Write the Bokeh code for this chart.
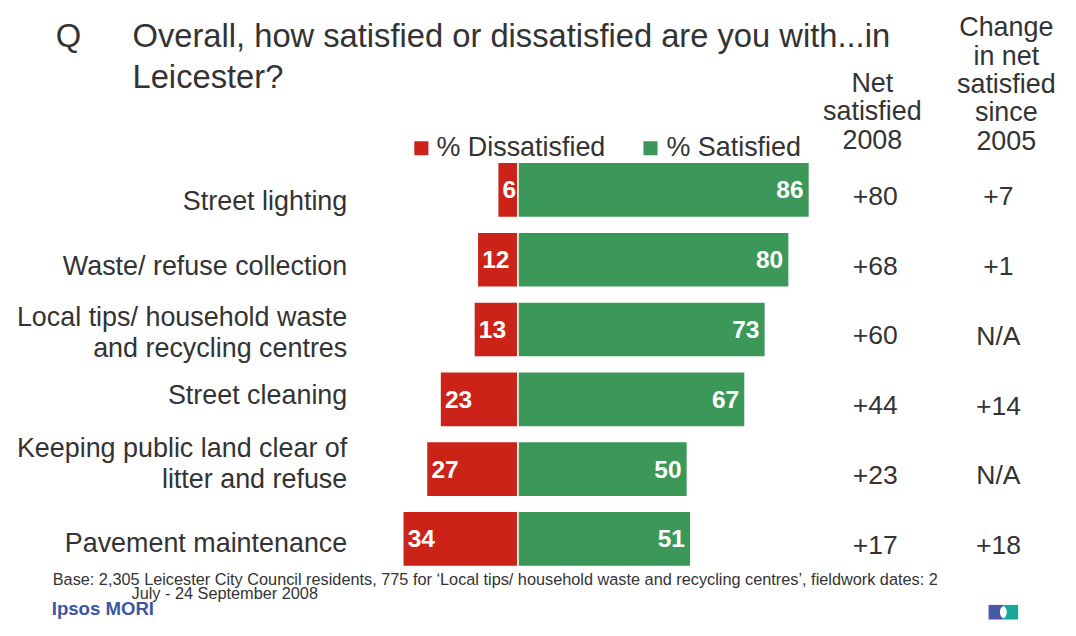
from bokeh.plotting import figure
from bokeh.models import Range1d, ColumnDataSource
from bokeh.core.properties import value
from bokeh.embed import file_html
from bokeh.resources import INLINE

# ---------------- data ----------------
categories = [
    "Street lighting",
    "Waste/ refuse collection",
    "Local tips/ household waste\nand recycling centres",
    "Street cleaning",
    "Keeping public land clear of\nlitter and refuse",
    "Pavement maintenance",
]
dissatisfied = [6, 12, 13, 23, 27, 34]
satisfied = [86, 80, 73, 67, 50, 51]
net_2008 = ["+80", "+68", "+60", "+44", "+23", "+17"]
change_since_2005 = ["+7", "+1", "N/A", "+14", "N/A", "+18"]

title_lines = ["Overall, how satisfied or dissatisfied are you with...in", "Leicester?"]
net_header = ["Net", "satisfied", "2008"]
change_header = ["Change", "in net", "satisfied", "since", "2005"]
legend_labels = ["% Dissatisfied", "% Satisfied"]
footnote_lines = [
    "Base: 2,305 Leicester City Council residents, 775 for \u2018Local tips/ household waste and recycling centres\u2019, fieldwork dates: 2",
    "July - 24 September 2008",
]

# ---------------- style / layout ----------------
RED = "#cc2318"
GREEN = "#3c9858"
TXT = "#333333"
FONT = value("Liberation Sans")

REF_W, REF_H = 1076, 636      # reference slide size in px
W, H = 1060, 620              # canvas size
S = (W / REF_W + H / REF_H) / 2


def F(px):
    return f"{px * S:.1f}px"


X0, XS = 525.3, 3.44     # slide x pixel of value 0, slide px per percentage point
Y0, YS = 194.3, 71.6     # slide y pixel of first row centre, slide px per row


def X(px):
    return (px - X0) / XS


def Y(py):
    return (py - Y0) / YS


# vertical nudges (slide px) of the category labels relative to their bar
label_nudge = [11.5, 6.5, 3.3, -4.0, -5.7, 4.0]

p = figure(width=W, height=H,
           x_range=Range1d(X(0), X(REF_W)),
           y_range=Range1d(Y(REF_H), Y(0)),
           x_axis_location=None, y_axis_location=None,
           output_backend="svg", toolbar_location=None,
           min_border=0, outline_line_color=None,
           background_fill_color="white", border_fill_color="white")
p.grid.visible = False

n = len(categories)
rows = list(range(n))
src = ColumnDataSource(dict(
    row=rows,
    cat=categories,
    neg_dis=[-d for d in dissatisfied],
    sat=satisfied,
    dis_lbl=[str(d) for d in dissatisfied],
    sat_lbl=[str(s) for s in satisfied],
    net=net_2008,
    chg=change_since_2005,
    lbl_y=[r + label_nudge[r] / YS for r in rows],
    val_y=[r + 6 / YS for r in rows],
    chg_y=[r + 6.5 / YS for r in rows],
    net_x=[X(888)] * n,
    chg_x=[X(1013)] * n,
    cat_x=[X(352)] * n,
))

# bars
p.hbar(y="row", left="neg_dis", right=0, height=0.79, source=src,
       fill_color=RED, line_color="white", line_width=1.5)
p.hbar(y="row", left=0, right="sat", height=0.79, source=src,
       fill_color=GREEN, line_color="white", line_width=1.5)

# in-bar labels
p.text(x="neg_dis", y="row", text="dis_lbl", source=src, x_offset=5 * S,
       text_align="left", text_baseline="middle", text_color="white",
       text_font=FONT, text_font_style="bold", text_font_size=F(25))
p.text(x="sat", y="row", text="sat_lbl", source=src, x_offset=-6 * S,
       text_align="right", text_baseline="middle", text_color="white",
       text_font=FONT, text_font_style="bold", text_font_size=F(25))

# category labels
p.text(x="cat_x", y="lbl_y", text="cat", source=src,
       text_align="right", text_baseline="middle", text_color=TXT,
       text_font=FONT, text_font_size=F(27.5), text_line_height=1.03)

# net / change columns
p.text(x="net_x", y="val_y", text="net", source=src,
       text_align="center", text_baseline="middle", text_color=TXT,
       text_font=FONT, text_font_size=F(27))
p.text(x="chg_x", y="chg_y", text="chg", source=src,
       text_align="center", text_baseline="middle", text_color=TXT,
       text_font=FONT, text_font_size=F(27))

# column headers (cap-centre positions)
p.text(x=[X(885)] * len(net_header), y=[Y(84.6 + 29.1 * k) for k in range(len(net_header))],
       text=net_header, text_align="center", text_baseline="middle",
       text_color=TXT, text_font=FONT, text_font_size=F(27.5))
p.text(x=[X(1021)] * len(change_header), y=[Y(27.5 + 29 * k) for k in range(len(change_header))],
       text=change_header, text_align="center", text_baseline="middle",
       text_color=TXT, text_font=FONT, text_font_size=F(27.5))

# title
p.text(x=[X(56)], y=[Y(36.2)], text=["Q"], text_align="left", text_baseline="middle",
       text_color=TXT, text_font=FONT, text_font_size=F(33.4))
p.text(x=[X(134), X(134)], y=[Y(36.2), Y(77.5)], text=title_lines, text_align="left",
       text_baseline="middle", text_color=TXT, text_font=FONT, text_font_size=F(33.4))

# legend
p.rect(x=[X(427.2), X(659.8)], y=[Y(151.5), Y(151.5)], width=14.3 / XS, height=14.3 / YS,
       fill_color=[RED, GREEN], line_color=None)
p.text(x=[X(442.5), X(676)], y=[Y(150), Y(150)], text=legend_labels,
       text_align="left", text_baseline="middle", text_color=TXT,
       text_font=FONT, text_font_size=F(27.5))

# footnote
p.text(x=[X(53), X(133)], y=[Y(593.3), Y(607.3)], text=footnote_lines,
       text_align="left", text_baseline="middle", text_color=TXT,
       text_font=FONT, text_font_size=F(16.6))

# Ipsos MORI branding
p.text(x=[X(52)], y=[Y(623.5)], text=["Ipsos MORI"], text_align="left",
       text_baseline="middle", text_color="#3d55a5",
       text_font=FONT, text_font_style="bold", text_font_size=F(19))
p.quad(left=[X(1003), X(1018)], right=[X(1018), X(1033)],
       top=[Y(620), Y(620)], bottom=[Y(635), Y(635)],
       fill_color=["#4a58a8", "#17a89a"], line_color=None)
p.ellipse(x=[X(1018)], y=[Y(627.5)], width=7 / XS, height=12 / YS,
          fill_color="white", line_color=None)

open("out.html", "w").write(file_html(p, INLINE))
